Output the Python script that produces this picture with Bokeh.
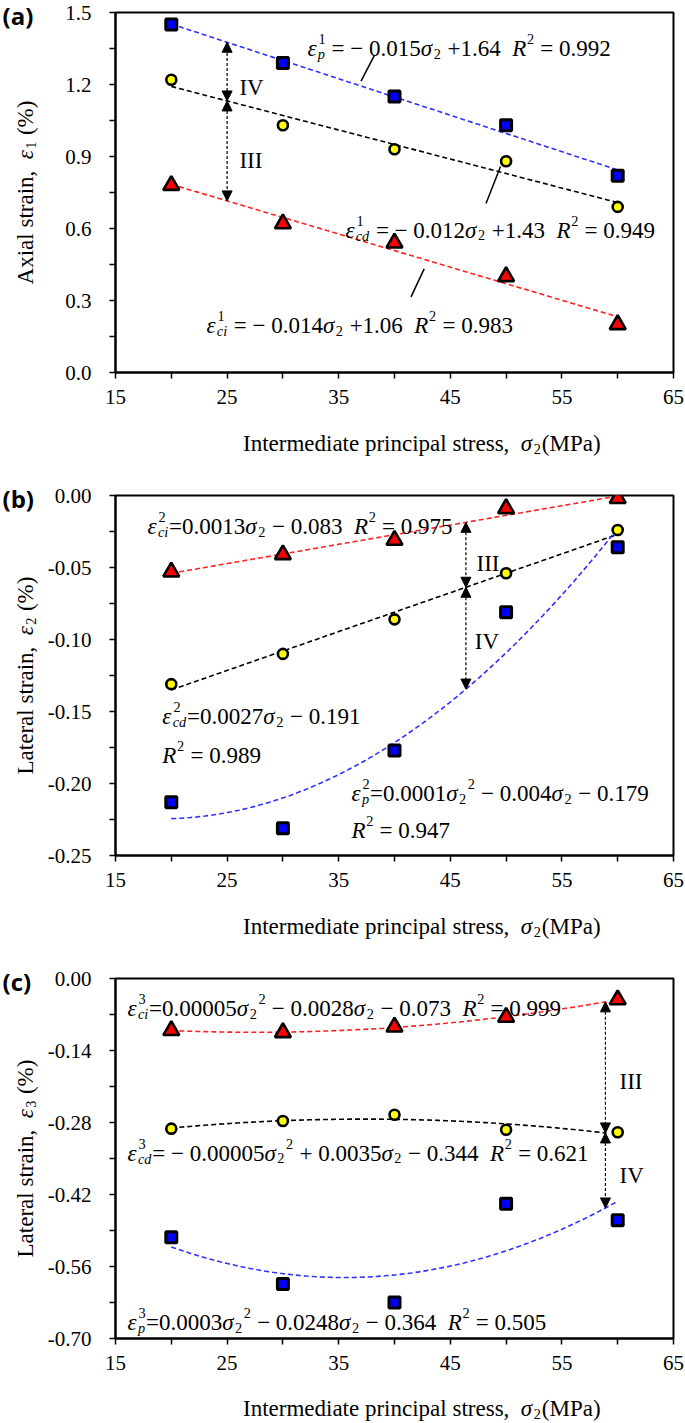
import math
import numpy as np
from bokeh.plotting import figure
from bokeh.models import Label, Arrow, NormalHead, Range1d, FixedTicker, PrintfTickFormatter
from bokeh.layouts import column, row
from bokeh.embed import file_html
from bokeh.resources import INLINE

# ---------------- data ----------------
sigma2 = [20, 30, 40, 50, 60]

axial_p = [1.45, 1.29, 1.15, 1.03, 0.82]
axial_cd = [1.22, 1.03, 0.93, 0.88, 0.69]
axial_ci = [0.78, 0.62, 0.54, 0.40, 0.20]

lat2_p = [-0.213, -0.231, -0.177, -0.081, -0.036]
lat2_cd = [-0.131, -0.110, -0.086, -0.054, -0.024]
lat2_ci = [-0.053, -0.041, -0.031, -0.009, -0.002]

lat3_p = [-0.503, -0.594, -0.630, -0.438, -0.470]
lat3_cd = [-0.292, -0.277, -0.265, -0.294, -0.299]
lat3_ci = [-0.101, -0.105, -0.094, -0.075, -0.041]

x_ticks = [15, 25, 35, 45, 55, 65]
x_minor = [20, 30, 40, 50, 60]
a_ticks = [0.0, 0.3, 0.6, 0.9, 1.2, 1.5]
a_minor = [0.15, 0.45, 0.75, 1.05, 1.35]
b_ticks = [-0.25, -0.20, -0.15, -0.10, -0.05, 0.0]
b_minor = [-0.225, -0.175, -0.125, -0.075, -0.025]
c_ticks = [-0.70, -0.56, -0.42, -0.28, -0.14, 0.0]
c_minor = [-0.63, -0.49, -0.35, -0.21, -0.07]

# ---------------- style ----------------
SERIF = "Liberation Serif"
BLUE_FILL, YEL_FILL, RED_FILL = "#0000FF", "#FFFF00", "#FF0000"
BLUE_LINE, RED_LINE, BLK_LINE = "#3030FF", "#FF2020", "#000000"
EQ_SIZE = 23
TICK_SIZE = "21px"
LAB_SIZE = 23

LEFT_W = 40          # width of the left text strip
MAIN_W = 645
FRAME_W = 558
RIGHT_B = 12
TOP_B = 12
BOT_B = 42
MAIN_H = TOP_B + 360 + BOT_B

REG = {' ': .25, '(': .333, ')': .333, ',': .25, '-': .333, '.': .25, '=': .564,
       '+': .564, '\u2212': .564, '%': .833, 'A': .722, 'I': .333, 'L': .611,
       'M': .889, 'P': .556, 'R': .667, 'V': .722,
       'a': .444, 'b': .5, 'c': .444, 'd': .5, 'e': .444, 'f': .333, 'g': .5,
       'h': .5, 'i': .278, 'l': .278, 'm': .778, 'n': .5, 'o': .5, 'p': .5,
       'r': .333, 's': .389, 't': .278, 'u': .5, 'x': .5, 'y': .5}
ITA = {'\u03b5': .44, '\u03c3': .55, 'R': .611, 'c': .444, 'd': .5, 'i': .278, 'p': .5}


def tw(s, italic=False):
    tbl = ITA if italic else REG
    return sum(tbl.get(ch, REG.get(ch, 0.5)) for ch in s)


def put_words(out, text, italic, size, rise, off):
    """split on spaces (SVG collapses them) and place every word explicitly"""
    words = text.split(' ')
    cur = off
    for i, w in enumerate(words):
        if w:
            out.append((w, italic, size, rise, cur))
        cur += tw(w, italic) * size
        if i < len(words) - 1:
            cur += tw(' ') * size
    return cur


def pieces_of(segs, size):
    ss = 0.62 * size
    out = []
    off = 0.0
    for seg in segs:
        k = seg[0]
        if k in ('n', 'i'):
            off = put_words(out, seg[1], k == 'i', size, 0.0, off)
        elif k == 'sub':
            out.append((seg[1], False, ss, -0.22 * size, off + 0.01 * size))
            off += tw(seg[1]) * ss + 0.05 * size
        elif k == 'sup':
            out.append((seg[1], False, ss, 0.42 * size, off + 0.03 * size))
            off += tw(seg[1]) * ss + 0.05 * size
        elif k == 'ss':
            out.append((seg[1], False, ss, 0.42 * size, off + 0.04 * size))
            out.append((seg[2], True, ss, -0.24 * size, off + 0.01 * size))
            off += max(tw(seg[1]), tw(seg[2], True)) * ss + 0.05 * size
    return out, off


def rich(p, x, y, segs, size, dx=0.0, dy=0.0, rotate=False, center=False):
    out, total = pieces_of(segs, size)
    base = -total / 2 if center else 0.0
    for text, it, sz, rise, off in out:
        if rotate:
            xo, yo, ang = dx - rise, dy + base + off, math.pi / 2
        else:
            xo, yo, ang = dx + base + off, dy + rise, 0.0
        p.add_layout(Label(x=x, y=y, x_offset=xo, y_offset=yo, text=text, angle=ang,
                           text_font=SERIF, text_font_size=f"{sz:.1f}px",
                           text_font_style="italic" if it else "normal",
                           text_color="black", text_align="left",
                           text_baseline="alphabetic"))


def make_fig(yr, yt, ym, fmt):
    p = figure(width=MAIN_W, height=MAIN_H, x_range=Range1d(15, 65), y_range=Range1d(*yr),
               output_backend="svg", toolbar_location=None,
               min_border_left=MAIN_W - FRAME_W - RIGHT_B, min_border_right=RIGHT_B,
               min_border_top=TOP_B, min_border_bottom=BOT_B)
    p.xgrid.visible = False
    p.ygrid.visible = False
    p.outline_line_color = "black"
    p.outline_line_width = 2
    p.background_fill_color = "white"
    p.border_fill_color = "white"
    p.xaxis.ticker = FixedTicker(ticks=x_ticks, minor_ticks=x_minor)
    p.yaxis.ticker = FixedTicker(ticks=yt, minor_ticks=ym)
    p.yaxis.formatter = PrintfTickFormatter(format=fmt)
    for ax in (p.xaxis[0], p.yaxis[0]):
        ax.axis_line_width = 2
        ax.axis_line_color = "black"
        ax.major_tick_line_width = 1.5
        ax.minor_tick_line_width = 1.5
        ax.major_tick_in = 0
        ax.major_tick_out = 6
        ax.minor_tick_in = 0
        ax.minor_tick_out = 6
        ax.major_label_text_font = SERIF
        ax.major_label_text_font_size = TICK_SIZE
        ax.major_label_text_color = "black"
    p.yaxis.major_label_standoff = 18
    p.xaxis.major_label_standoff = 11
    return p


def aux_fig(w, h):
    f = figure(width=w, height=h, x_range=Range1d(0, w), y_range=Range1d(0, h),
               output_backend="svg", toolbar_location=None, min_border=0,
               x_axis_type=None, y_axis_type=None)
    f.outline_line_color = None
    f.xgrid.visible = False
    f.ygrid.visible = False
    f.background_fill_color = "white"
    f.border_fill_color = "white"
    return f


def fit_line(p, ys, deg, color, x_end=60):
    c = np.polyfit(sigma2, ys, deg)
    xs = np.linspace(sigma2[0], x_end, 120)
    p.line(xs, np.polyval(c, xs), line_color=color, line_width=1.6, line_dash="5 3")
    return c


def markers(p, yp, ycd, yci):
    p.scatter(sigma2, yp, marker="square", size=11, fill_color=BLUE_FILL,
              line_color="black", line_width=3)
    p.scatter(sigma2, ycd, marker="circle", size=10, fill_color=YEL_FILL,
              line_color="black", line_width=2.6)
    p.scatter(sigma2, yci, marker="triangle", size=16, fill_color=RED_FILL,
              line_color="black", line_width=2.6)


def darrow(p, x, y0, y1):
    p.add_layout(Arrow(x_start=x, y_start=y0, x_end=x, y_end=y1,
                       start=NormalHead(size=10, fill_color="black", line_color="black"),
                       end=NormalHead(size=10, fill_color="black", line_color="black"),
                       line_color="black", line_width=1.2, line_dash="3 2"))


def roman(p, x, y, txt):
    p.add_layout(Label(x=x, y=y, text=txt, text_font=SERIF, text_font_size=f"{EQ_SIZE}px",
                       text_color="black", text_align="left", text_baseline="alphabetic"))


def side_strips(total_h, ylab_segs, tag, xlab_h, xlab_base):
    """left strip (panel tag + y label) and bottom strip (x label)"""
    left = aux_fig(LEFT_W, total_h)
    frame_mid = TOP_B + 180
    rich(left, 25, total_h - frame_mid, ylab_segs, LAB_SIZE, rotate=True, center=True)
    left.add_layout(Label(x=2, y=total_h - TOP_B - 3, text=tag,
                          text_font="Open Sans", text_font_style="bold", text_font_size="24px",
                          text_color="black", text_align="left", text_baseline="middle"))
    bottom = aux_fig(MAIN_W, xlab_h)
    xl = [('n', 'Intermediate principal stress,  '), ('i', '\u03c3'), ('sub', '2'), ('n', '(MPa)')]
    xc = MAIN_W - RIGHT_B - FRAME_W / 2
    rich(bottom, xc, xlab_h - xlab_base, xl, LAB_SIZE, center=True)
    return left, bottom


MINUS = "\u2212"
EPS, SIG = "\u03b5", "\u03c3"

# ---------------- panel (a) ----------------
pa = make_fig((0, 1.5), a_ticks, a_minor, "%.1f")
cpa = fit_line(pa, axial_p, 1, BLUE_LINE)
ccda = fit_line(pa, axial_cd, 1, BLK_LINE)
ccia = fit_line(pa, axial_ci, 1, RED_LINE)
markers(pa, axial_p, axial_cd, axial_ci)
xa = 25
darrow(pa, xa, np.polyval(ccda, xa), np.polyval(cpa, xa))
darrow(pa, xa, np.polyval(ccda, xa), np.polyval(ccia, xa))
roman(pa, 26.1, 1.1875, "IV")
roman(pa, 26.1, 0.883, "III")
pa.segment(x0=[38.2, 49.5, 42.66], y0=[1.321, 0.858, 0.432],
           x1=[37.0, 48.2, 41.48], y1=[1.214, 0.704, 0.315], line_color="black", line_width=1.5)
rich(pa, 32.2, 1.35, [('i', EPS), ('ss', '1', 'p'), ('n', ' = ' + MINUS + ' 0.015'), ('i', SIG), ('sub', '2'),
                      ('n', ' +1.64  '), ('i', 'R'), ('sup', '2'), ('n', ' = 0.992')], EQ_SIZE)
rich(pa, 35.6, 0.592, [('i', EPS), ('ss', '1', 'cd'), ('n', ' = ' + MINUS + ' 0.012'), ('i', SIG), ('sub', '2'),
                       ('n', ' +1.43  '), ('i', 'R'), ('sup', '2'), ('n', ' = 0.949')], EQ_SIZE)
rich(pa, 23.15, 0.196, [('i', EPS), ('ss', '1', 'ci'), ('n', ' = ' + MINUS + ' 0.014'), ('i', SIG), ('sub', '2'),
                        ('n', ' +1.06  '), ('i', 'R'), ('sup', '2'), ('n', ' = 0.983')], EQ_SIZE)
la, ba = side_strips(483, [('n', 'Axial strain,  '), ('i', EPS), ('sub', '1'), ('n', ' (%)')], "(a)",
                     483 - MAIN_H, 29)

# ---------------- panel (b) ----------------
pb = make_fig((-0.25, 0.0), b_ticks, b_minor, "%.2f")
ccib = fit_line(pb, lat2_ci, 1, RED_LINE)
ccdb = fit_line(pb, lat2_cd, 1, BLK_LINE)
cpb = fit_line(pb, lat2_p, 2, BLUE_LINE)
markers(pb, lat2_p, lat2_cd, lat2_ci)
xb = 46.4
darrow(pb, xb, np.polyval(ccib, xb), np.polyval(ccdb, xb))
darrow(pb, xb, np.polyval(ccdb, xb), np.polyval(cpb, xb))
roman(pb, 47.35, -0.0472, "III")
roman(pb, 47.2, -0.1014, "IV")
rich(pb, 17.87, -0.0215, [('i', EPS), ('ss', '2', 'ci'), ('n', '=0.0013'), ('i', SIG), ('sub', '2'),
                          ('n', ' ' + MINUS + ' 0.083  '), ('i', 'R'), ('sup', '2'), ('n', ' = 0.975')], EQ_SIZE)
rich(pb, 19.2, -0.1535, [('i', EPS), ('ss', '2', 'cd'), ('n', '=0.0027'), ('i', SIG), ('sub', '2'),
                         ('n', ' ' + MINUS + ' 0.191')], EQ_SIZE)
rich(pb, 19.2, -0.1806, [('i', 'R'), ('sup', '2'), ('n', ' = 0.989')], EQ_SIZE)
rich(pb, 36.15, -0.207, [('i', EPS), ('ss', '2', 'p'), ('n', '=0.0001'), ('i', SIG), ('sub', '2'), ('sup', '2'),
                         ('n', ' ' + MINUS + ' 0.004'), ('i', SIG), ('sub', '2'), ('n', ' ' + MINUS + ' 0.179')], EQ_SIZE)
rich(pb, 36.15, -0.2326, [('i', 'R'), ('sup', '2'), ('n', ' = 0.947')], EQ_SIZE)
lb, bb = side_strips(483, [('n', 'Lateral strain,  '), ('i', EPS), ('sub', '2'), ('n', ' (%)')], "(b)",
                     483 - MAIN_H, 29)

# ---------------- panel (c) ----------------
pc = make_fig((-0.70, 0.0), c_ticks, c_minor, "%.2f")
ccic = fit_line(pc, lat3_ci, 2, RED_LINE, x_end=59)
ccdc = fit_line(pc, lat3_cd, 2, BLK_LINE, x_end=59)
cpc = fit_line(pc, lat3_p, 2, BLUE_LINE)
markers(pc, lat3_p, lat3_cd, lat3_ci)
xc = 58.9
darrow(pc, xc, np.polyval(ccic, xc), np.polyval(ccdc, xc))
darrow(pc, xc, np.polyval(ccdc, xc), np.polyval(cpc, xc))
roman(pc, 60.16, -0.2003, "III")
roman(pc, 60.16, -0.383, "IV")
rich(pc, 16.08, -0.0583, [('i', EPS), ('ss', '3', 'ci'), ('n', '=0.00005'), ('i', SIG), ('sub', '2'), ('sup', '2'),
                          ('n', ' ' + MINUS + ' 0.0028'), ('i', SIG), ('sub', '2'),
                          ('n', ' ' + MINUS + ' 0.073  '), ('i', 'R'), ('sup', '2'), ('n', ' = 0.999')], EQ_SIZE)
rich(pc, 16.08, -0.340, [('i', EPS), ('ss', '3', 'cd'), ('n', '= ' + MINUS + ' 0.00005'), ('i', SIG), ('sub', '2'),
                         ('sup', '2'), ('n', ' + 0.0035'), ('i', SIG), ('sub', '2'),
                         ('n', ' ' + MINUS + ' 0.344  '), ('i', 'R'), ('sup', '2'), ('n', ' = 0.621')], EQ_SIZE)
rich(pc, 16.08, -0.669, [('i', EPS), ('ss', '3', 'p'), ('n', '=0.0003'), ('i', SIG), ('sub', '2'), ('sup', '2'),
                         ('n', ' ' + MINUS + ' 0.0248'), ('i', SIG), ('sub', '2'),
                         ('n', ' ' + MINUS + ' 0.364  '), ('i', 'R'), ('sup', '2'), ('n', ' = 0.505')], EQ_SIZE)
lc, bc = side_strips(455, [('n', 'Lateral strain,  '), ('i', EPS), ('sub', '3'), ('n', ' (%)')], "(c)",
                     455 - MAIN_H, 28)

layout = column(
    row(la, column(pa, ba, spacing=0), spacing=0),
    row(lb, column(pb, bb, spacing=0), spacing=0),
    row(lc, column(pc, bc, spacing=0), spacing=0),
    spacing=0)
open("out.html", "w").write(file_html(layout, INLINE))
